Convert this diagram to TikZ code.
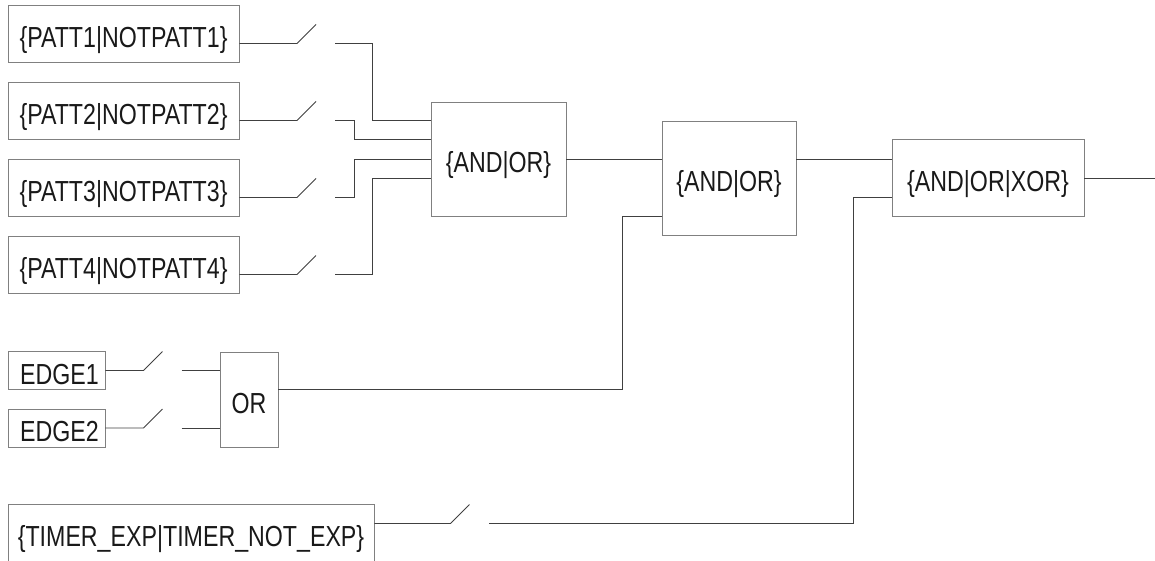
\documentclass[tikz,border=0pt]{standalone}
\usepackage{fontspec}
\setmainfont{Liberation Sans}[FakeStretch=0.8]
\usepackage{tikz}
\usetikzlibrary{calc}

\begin{document}
\begin{tikzpicture}[x=1pt,y=-1pt]
	 \tikzstyle{box}=[rectangle,draw=black!50,line width=0.9pt,inner sep=0pt,text height=27pt,text depth=0pt,font=\fontsize{29}{32}\selectfont,text=black!90]
	 \tikzstyle{patt}=[box,minimum width=231pt,minimum height=57pt]
	 \tikzstyle{gate}=[box,minimum width=135pt,minimum height=114pt]
	 \tikzstyle{edgebox}=[box,minimum width=97pt,minimum height=38pt]
	 \tikzstyle{edge} = [draw,line width=0.9pt,-,black!75]
	 \useasboundingbox (0,0) rectangle (1155,560);
	 \node[patt] (p1) at (123.5,34) {\{PATT1|NOTPATT1\}};
	 \node[patt] (p2) at (123.5,111) {\{PATT2|NOTPATT2\}};
	 \node[patt] (p3) at (123.5,188) {\{PATT3|NOTPATT3\}};
	 \node[patt] (p4) at (123.5,265) {\{PATT4|NOTPATT4\}};
	 \node[gate] (g1) at (498.5,159) {\{AND|OR\}};
	 \node[gate,minimum width=134pt] (g2) at (729,178) {\{AND|OR\}};
	 \node[gate,minimum width=192pt,minimum height=77pt] (g3) at (988,178) {\{AND|OR|XOR\}};
	 \node[edgebox] (e1) at (56.5,370.5) {\hspace{6pt}EDGE1};
	 \node[edgebox] (e2) at (56.5,428) {\hspace{6pt}EDGE2};
	 \node[box,minimum width=58pt,minimum height=95pt] (or) at (249,399.5) {OR};
	 \node[box,minimum width=366pt,minimum height=58pt] (tm) at (191,533) {\{TIMER\_EXP|TIMER\_NOT\_EXP\}};
	 % switch contacts
	 \coordinate (s1) at (297,43.5);  \coordinate (c1) at (335,43.5);
	 \coordinate (s2) at (297,120.5); \coordinate (c2) at (335,120.5);
	 \coordinate (s3) at (297,197.5); \coordinate (c3) at (335,197.5);
	 \coordinate (s4) at (297,274.5); \coordinate (c4) at (335,274.5);
	 \coordinate (se1) at (143.5,370.5); \coordinate (ce1) at (181.5,370.5);
	 \coordinate (se2) at (143.5,428); \coordinate (ce2) at (181.5,428);
	 \coordinate (st) at (450.5,523.5); \coordinate (ct) at (489,523.5);
	 \coordinate (out) at (1155,178);
	 \draw[edge] (p1.east |- s1) -- (s1) -- ++(19,-19);
	 \draw[edge] (p2.east |- s2) -- (s2) -- ++(19,-19);
	 \draw[edge] (p3.east |- s3) -- (s3) -- ++(19,-19);
	 \draw[edge] (p4.east |- s4) -- (s4) -- ++(19,-19);
	 \draw[edge] (e1.east |- se1) -- (se1) -- ++(19,-19);
	 \draw[edge] (e2.east |- se2) -- (se2) -- ++(19,-19);
	 \draw[edge] (tm.east |- st) -- (st) -- ++(19,-19);
	 \draw[edge] (c1) -| ($(g1.west)+(-58,-38.5)$) -- ($(g1.west)+(0,-38.5)$);
	 \draw[edge] (c2) -| ($(g1.west)+(-76,-19.5)$) -- ($(g1.west)+(0,-19.5)$);
	 \draw[edge] (c3) -| ($(g1.west)+(-76,0)$) -- (g1.west);
	 \draw[edge] (c4) -| ($(g1.west)+(-58,19.5)$) -- ($(g1.west)+(0,19.5)$);
	 \draw[edge] (ce1) -- (or.west |- ce1);
	 \draw[edge] (ce2) -- (or.west |- ce2);
	 \draw[edge] (g1.east) -- (g2.west |- g1.east);
	 \draw[edge] ($(or.east)+(0,-10)$) -| ($(g2.west)+(-39,38.5)$) -- ($(g2.west)+(0,38.5)$);
	 \draw[edge] ($(g2.east)+(0,-19)$) -- ($(g3.west)+(0,-19)$);
	 \draw[edge] (ct) -| ($(g3.west)+(-38,19)$) -- ($(g3.west)+(0,19)$);
	 \draw[edge] (g3.east) -- (out);
\end{tikzpicture}
\end{document}
